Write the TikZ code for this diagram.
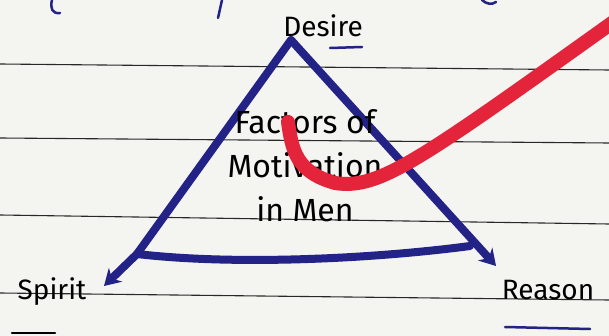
\documentclass[tikz,border=0pt]{standalone}
\usepackage{fontspec}
\setmainfont{Fira Sans}
\usetikzlibrary{arrows.meta}
\definecolor{paper}{RGB}{244,244,241}
\definecolor{ink}{RGB}{34,34,135}
\definecolor{rule}{RGB}{40,40,40}
\definecolor{redpen}{RGB}{228,36,58}
\tikzset{
  ruled/.style={draw=rule, line width=1.1pt},
  tri/.style={draw=ink, line width=8pt, line cap=round, line join=round},
  arr/.style={tri, -{Stealth[length=16pt,width=19pt]}},
  label/.style={font=\fontsize{28}{30}\selectfont, text=black, inner sep=0pt},
  inner/.style={font=\fontsize{32}{44}\selectfont, text=black, align=center, inner sep=0pt},
  uline/.style={line width=2.5pt, line cap=round},
}
\begin{document}
\begin{tikzpicture}[x=1pt,y=-1pt]
\useasboundingbox (0,0) rectangle (609,336);
\fill[paper] (0,0) rectangle (609,336);
% ruled lines
\draw[ruled] (0,64) -- (609,70);
\draw[ruled] (0,138) -- (609,143);
\draw[ruled] (0,215) -- (609,224);
\draw[ruled] (0,293) -- (609,300);
% partial handwriting at the top
\draw[ink, line width=2.5pt, line cap=round] (52,0) .. controls (50,8) and (52,14) .. (60,13);
\draw[ink, line width=2.5pt, line cap=round] (222,0) -- (218,18);
\draw[ink, line width=2.5pt, line cap=round] (482,0) .. controls (486,4) and (492,5) .. (496,2);
% corner points
\coordinate (A) at (291,40);
\coordinate (L) at (137,254);
\coordinate (R) at (470,246);
\coordinate (Ltip) at (104,286);
\coordinate (Rtip) at (496,266);
% triangle
\draw[tri] (L) -- (A);
\draw[arr] (A) -- (Rtip);
\draw[tri] (L) .. controls (240,266) and (380,258) .. (R);
\draw[arr] (L) -- (Ltip);
% labels
\node[label] (desire) at (323,26) {Desire};
\node[inner] (factors) at (305,166) {Factors of\\Motivation\\in Men};
\node[label] (spirit) at (52,292) {Spirit};
\node[label] (reason) at (548,290) {Reason};
% underlines
\draw[ink, uline] (330,48) -- (362,47);
\draw[black, uline] (12,333) -- (55,333);
\draw[ink, uline] (505,327) -- (590,329);
% red check mark
\begin{scope}
\clip (0,0) rectangle (609,336);
\draw[redpen, line width=14pt, line cap=round] (288,122) .. controls (292,150) and (296,172) .. (335,183) .. controls (380,190) and (420,160) .. (630,10);
\end{scope}
\end{tikzpicture}
\end{document}
